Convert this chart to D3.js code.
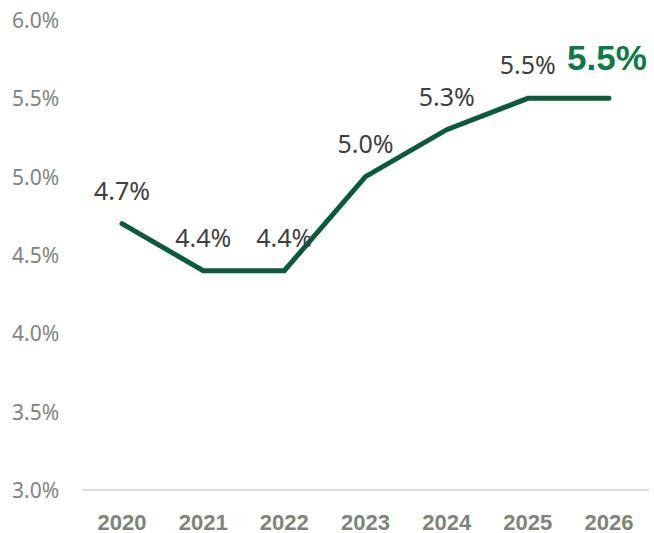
<!DOCTYPE html>
<html><head><meta charset="utf-8">
<script src="https://cdn.jsdelivr.net/npm/d3@7"></script>
<style>body{margin:0;background:#fff}</style>
</head><body>
<svg id="c" width="654" height="533"></svg>
<script>
const years = ["2020","2021","2022","2023","2024","2025","2026"];
const values = [4.7, 4.4, 4.4, 5.0, 5.3, 5.5, 5.5];
const labels = ["4.7%","4.4%","4.4%","5.0%","5.3%","5.5%","5.5%"];
const yTicks = [3.0, 3.5, 4.0, 4.5, 5.0, 5.5, 6.0];

const svg = d3.select("#c");
const x = d3.scalePoint().domain(years).range([122, 609]);
const y = d3.scaleLinear().domain([3.0, 6.0]).range([490, 20]);

// y tick labels
svg.append("g").selectAll("text").data(yTicks).join("text")
  .attr("x", 12).attr("y", d => y(d) + 8)
  .attr("font-family", "Noto Sans, Open Sans, sans-serif")
  .attr("font-size", 21).attr("fill", "#7f857d")
  .text(d => d.toFixed(1) + "%");

// baseline
svg.append("line").attr("x1", 82).attr("x2", 649)
  .attr("y1", y(3.0)).attr("y2", y(3.0))
  .attr("stroke", "#dcdcdc").attr("stroke-width", 2);

// x labels
svg.append("g").selectAll("text").data(years).join("text")
  .attr("x", d => x(d)).attr("y", 529.5)
  .attr("text-anchor", "middle")
  .attr("font-family", "Liberation Sans, Arial, sans-serif")
  .attr("font-weight", "bold").attr("font-size", 22).attr("fill", "#7c8577")
  .text(d => d);

// line
const line = d3.line().x((d, i) => x(years[i])).y(d => y(d));
svg.append("path").datum(values).attr("d", line)
  .attr("fill", "none").attr("stroke", "#0b5a3c").attr("stroke-width", 5)
  .attr("stroke-linecap", "round").attr("stroke-linejoin", "miter");

// data labels
svg.append("g").selectAll("text").data(values.slice(0, 6)).join("text")
  .attr("x", (d, i) => x(years[i])).attr("y", d => y(d) - 24)
  .attr("text-anchor", "middle")
  .attr("font-family", "Noto Sans, Open Sans, sans-serif")
  .attr("font-size", 25).attr("fill", "#404040")
  .text((d, i) => labels[i]);

svg.append("text")
  .attr("x", x(years[6]) - 2).attr("y", y(values[6]) - 28)
  .attr("text-anchor", "middle")
  .attr("font-family", "Liberation Sans, Arial, sans-serif")
  .attr("font-weight", "bold").attr("font-size", 35).attr("fill", "#0e7a47")
  .text(labels[6]);
</script>
</body></html>
